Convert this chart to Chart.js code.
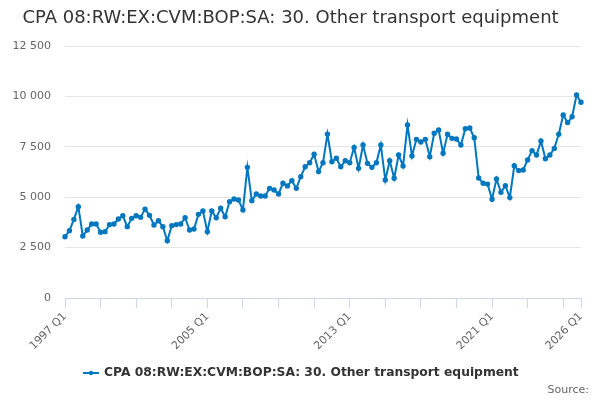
<!DOCTYPE html>
<html>
<head>
<meta charset="utf-8">
<script src="https://cdn.jsdelivr.net/npm/chart.js@4"></script>
<style>
  html, body { margin: 0; padding: 0; background: #fff; }
  #wrap { width: 600px; height: 400px; }
</style>
</head>
<body>
<div id="wrap"><canvas id="chart"></canvas></div>
<script>
const firstYear = 1997;
const quarters = [];
for (let i = 0; i < 117; i++) {
  quarters.push((firstYear + Math.floor(i / 4)) + ' Q' + (i % 4 + 1));
}

const values = [
  3040, 3340, 3900, 4530, 3075, 3370, 3670, 3670, 3260, 3290,
  3640, 3670, 3920, 4080, 3540, 3950, 4080, 4000, 4410, 4100,
  3620, 3830, 3540, 2840, 3590, 3640, 3670, 3980, 3370, 3420,
  4150, 4320, 3290, 4320, 3980, 4450, 4030, 4780, 4910, 4860,
  4370, 6480, 4830, 5160, 5060, 5060, 5440, 5360, 5160, 5690,
  5560, 5820, 5440, 6020, 6510, 6710, 7130, 6270, 6710, 8130,
  6760, 6930, 6510, 6810, 6710, 7470, 6430, 7590, 6680, 6480,
  6710, 7590, 5850, 6810, 5940, 7090, 6550, 8580, 7040, 7870,
  7740, 7870, 7010, 8170, 8330, 7180, 8120, 7920, 7890, 7590,
  8400, 8430, 7950, 5950, 5690, 5650, 4900, 5900, 5240, 5570,
  4980, 6560, 6320, 6350, 6850, 7310, 7090, 7790, 6910, 7090,
  7420, 8120, 9080, 8700, 8990, 10070, 9710
];

const shownLabels = ['1997 Q1', '2005 Q1', '2013 Q1', '2021 Q1', '2026 Q1'];
const seriesName = 'CPA 08:RW:EX:CVM:BOP:SA: 30. Other transport equipment';
const lineColor = '#0077be';
const font = 'DejaVu Sans';

function spaced(v) {
  return String(v).replace(/\B(?=(\d{3})+(?!\d))/g, ' ');
}

// legend and source line drawn under the axis
const footer = {
  id: 'footer',
  afterDraw(chart) {
    const c = chart.ctx;
    c.save();
    c.strokeStyle = lineColor;
    c.lineWidth = 2;
    c.beginPath();
    c.moveTo(83, 373);
    c.lineTo(99, 373);
    c.stroke();
    c.fillStyle = lineColor;
    c.beginPath();
    c.arc(91, 373, 2.2, 0, Math.PI * 2);
    c.fill();
    c.fillStyle = '#333333';
    c.font = 'bold 12.3px "' + font + '"';
    c.textBaseline = 'middle';
    c.textAlign = 'left';
    c.fillText(seriesName, 104, 373);
    c.fillStyle = '#666666';
    c.font = '11px "' + font + '"';
    c.textAlign = 'right';
    c.fillText('Source:', 589, 390);
    c.restore();
  }
};

new Chart(document.getElementById('chart'), {
  type: 'line',
  data: {
    labels: quarters,
    datasets: [{
      label: seriesName,
      data: values,
      borderColor: lineColor,
      backgroundColor: lineColor,
      borderWidth: 2,
      pointRadius: 1.7,
      pointHoverRadius: 3,
      tension: 0
    }]
  },
  options: {
    responsive: true,
    maintainAspectRatio: false,
    animation: false,
    layout: { padding: { left: 0, right: 19, top: 0, bottom: 40 } },
    plugins: {
      legend: { display: false },
      tooltip: { enabled: false },
      title: {
        display: true,
        text: 'CPA 08:RW:EX:CVM:BOP:SA: 30. Other transport equipment',
        color: '#333333',
        font: { family: font, size: 18, weight: 'normal' },
        padding: { top: 8, bottom: 16.4 }
      }
    },
    scales: {
      x: {
        afterFit(scale) { scale.height = 62; },
        grid: {
          drawOnChartArea: false,
          tickLength: 10,
          tickColor: (ctx) => (ctx.index % 8 === 0 || ctx.index === 116) ? '#ccd6eb' : 'rgba(0,0,0,0)'
        },
        border: { color: '#ccd6eb' },
        ticks: {
          autoSkip: false,
          minRotation: 45,
          maxRotation: 45,
          padding: 2,
          color: '#666666',
          font: { family: font, size: 11 },
          callback(v, i) {
            const lab = quarters[i];
            return shownLabels.includes(lab) ? lab : '';
          }
        }
      },
      y: {
        min: 0,
        max: 12500,
        afterFit(scale) { scale.width = 65; },
        border: { display: false },
        grid: { color: '#e6e6e6', drawTicks: false },
        ticks: {
          stepSize: 2500,
          padding: 14,
          color: '#666666',
          font: { family: font, size: 11 },
          callback: (v) => spaced(v)
        }
      }
    }
  },
  plugins: [footer]
});
</script>
</body>
</html>
